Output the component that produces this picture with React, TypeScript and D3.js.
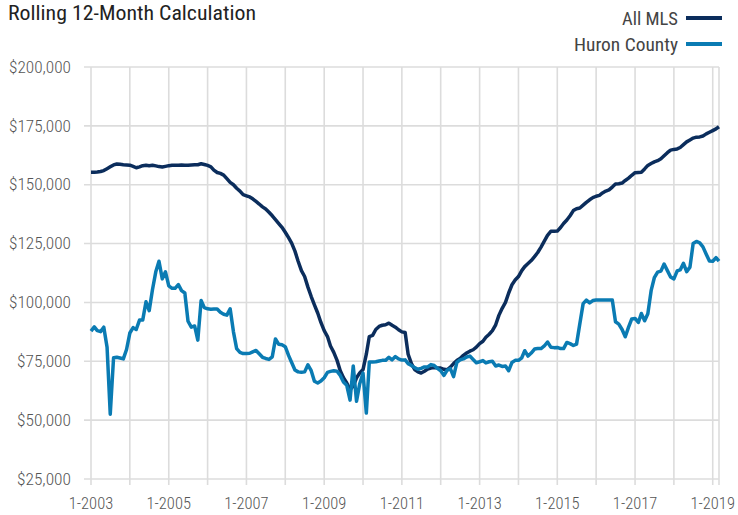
import React from 'react';
import * as d3 from 'd3';

// monthly values, Jan 2003 .. Mar 2019 (in $000)
const allMls = [
  155.3, 155.3, 155.4, 155.6, 156, 156.8, 157.6, 158.4, 158.8, 158.7, 158.5, 158.4,
  158.3, 157.8, 157.2, 157.6, 158.1, 158.3, 158.1, 158.3, 158.0, 157.7, 157.5, 157.8,
  158.1, 158.3, 158.3, 158.3, 158.4, 158.3, 158.3, 158.4, 158.5, 158.5, 158.9, 158.6,
  158.2, 157.6, 156.2, 155.2, 154.8, 154.1, 152.6, 151, 150, 148.5, 147.3, 145.8,
  145.3, 144.8, 144, 142.9, 141.8, 140.6, 139.7, 138.3, 136.8, 135.2, 133.5, 131.9,
  129.8, 127.5, 125.2, 121.8, 117.5, 113.5, 111, 106.5, 102.5, 99, 95.5, 91.5,
  88, 85.5, 81.5, 78.8, 75.5, 71, 68, 65.8, 63, 64.5, 68, 70,
  71.5, 78, 85.5, 86, 88.5, 89.8, 90.3, 90.5, 91.2, 90.3, 89.5, 88.4,
  87.5, 87.2, 78, 74, 71.5, 70.5, 70, 70.8, 71.7, 72.1, 72.3, 72.2,
  72.1, 71.6, 71.4, 72.5, 74, 75.3, 76.2, 77.5, 78.5, 79.3, 79.9, 81,
  82.5, 83.5, 85.2, 86.5, 88, 90.5, 94.5, 97.5, 100, 104, 107.5, 109.5,
  111, 113.5, 115.2, 116.5, 117.8, 119.5, 121.2, 123.5, 126, 128.5, 130.2, 130.2,
  130.3, 131.8, 133.5, 135, 136.8, 139, 139.8, 140.1, 141.3, 142.5, 143.6, 144.5,
  145.1, 145.5, 146.5, 147.3, 147.8, 149, 150.3, 150.4, 150.7, 151.8, 152.8, 154,
  155.1, 155.2, 155.3, 156.7, 158.2, 159, 159.7, 160.2, 161, 162.3, 163.6, 164.7,
  165, 165.2, 165.8, 167, 168.2, 169, 169.8, 170.2, 170.3, 170.7, 171.6, 172.3,
  173, 173.7, 174.6,
];

const huron = [
  87.8, 89.6, 88, 87.6, 89.5, 81, 52.5, 76.5, 76.7, 76.4, 76, 80,
  87, 89.3, 88.5, 92.5, 92.5, 100.3, 96.5, 105.5, 113, 117.5, 110, 113,
  107, 106, 106, 107.6, 105, 104, 92, 89.5, 90, 84, 100.8, 97.8,
  97.3, 97.1, 97.2, 97.2, 95.8, 95, 94.6, 97.3, 87.5, 80.4, 78.8, 78.3,
  78.3, 78.4, 79, 79.6, 78.2, 76.7, 76.2, 75.8, 76.9, 84.5, 82.2, 82,
  81.2, 77.5, 74.5, 71.3, 70.5, 70.3, 70.5, 73.5, 71, 66.5, 65.8, 66.6,
  68, 70.3, 70.7, 71, 70.8, 69, 66.2, 64.8, 58.5, 73, 58, 65.5,
  70, 53, 74.7, 74.7, 74.8, 75.1, 75.4, 75.4, 76.7, 75.6, 77, 76,
  75.5, 75.6, 74, 73.2, 72.3, 71.6, 72, 72.6, 72.6, 73.6, 73.2, 72,
  71, 69, 71.2, 71.9, 68.5, 74.5, 75.6, 76, 76.8, 77.2, 75.8, 74.4,
  74.8, 75.3, 74.3, 74.8, 75, 73, 73.4, 72.8, 73, 71, 74.5, 75.4,
  75.4, 76.5, 79.5, 77.2, 78.5, 80.2, 80.4, 80.4, 81.5, 83.2, 81, 80.8,
  80.9, 80.4, 80.4, 83, 82.5, 81.7, 82.3, 91, 99.5, 101, 99.8, 100.8,
  101, 101, 101, 101, 101, 101, 91.8, 90.8, 88.5, 85.4, 89.5, 93,
  93.2, 91.5, 95.3, 92.2, 95.2, 105, 110.5, 112.9, 113.3, 116.3, 113.5, 110.8,
  110, 113.4, 113.8, 116.6, 113.1, 115, 125, 125.9, 125.3, 123.6, 120.5, 117.6,
  117.5, 119, 117.5,
];

const yTicks = [25000, 50000, 75000, 100000, 125000, 150000, 175000, 200000];
const xLabelYears = [2003, 2005, 2007, 2009, 2011, 2013, 2015, 2017, 2019];
const gridYears = d3.range(2003, 2020);
const seriesNames = ['All MLS', 'Huron County'];
const legendWidths = [56, 104];
const seriesColors = ['#0b2d5c', '#0a7bb3'];

const W = 738;
const H = 515;
const FONT = '"Roboto Condensed", "Liberation Sans Narrow", Roboto, sans-serif';

export default function App() {
  const start = new Date(2003, 0, 1);
  const end = new Date(2019, 2, 1);
  const x = d3.scaleTime().domain([start, end]).range([91, 719]);
  const y = d3.scaleLinear().domain([25000, 200000]).range([479, 67]);

  const dateOf = (i: number) => d3.timeMonth.offset(start, i);
  const line = d3.line<number>()
    .x((_, i) => x(dateOf(i)))
    .y(d => y(d * 1000))
    .curve(d3.curveLinear);

  const [x0, x1] = x.range();
  const [yBottom, yTop] = y.range();

  return (
    <svg width={W} height={H} style={{ position: 'absolute', left: 0, top: 0, background: '#fff' }}>
      {/* grid */}
      <g stroke="#dcdcdc" strokeWidth={1.6}>
        {yTicks.map(t => (
          <line key={t} x1={x0 - 7} x2={x1} y1={y(t)} y2={y(t)} />
        ))}
        {gridYears.map(yr => (
          <line key={yr} x1={x(new Date(yr, 0, 1))} x2={x(new Date(yr, 0, 1))} y1={yTop} y2={yBottom + 6} />
        ))}
        <line x1={x1} x2={x1} y1={yTop} y2={yBottom + 6} />
      </g>

      {/* y labels */}
      <g fontFamily={FONT} fontSize={16.5} fontWeight={300} fill="#555" textAnchor="end">
        {yTicks.map(t => (
          <text key={t} x={71} y={y(t)} dy="0.35em" textLength={t >= 100000 ? 62 : 54} lengthAdjust="spacingAndGlyphs">
            {d3.format('$,')(t)}
          </text>
        ))}
      </g>

      {/* x labels */}
      <g fontFamily={FONT} fontSize={16.5} fontWeight={300} fill="#555" textAnchor="middle">
        {xLabelYears.map(yr => (
          <text key={yr} x={x(new Date(yr, 0, 1))} y={503} dy="0.35em">{`1-${yr}`}</text>
        ))}
      </g>

      {/* series */}
      <path d={line(allMls) || ''} fill="none" stroke={seriesColors[0]} strokeWidth={3.5} strokeLinejoin="round" />
      <path d={line(huron) || ''} fill="none" stroke={seriesColors[1]} strokeWidth={3.5} strokeLinejoin="round" />

      {/* title */}
      <text x={8} y={20} fontFamily={FONT} fontSize={21} fill="#222"
        textLength={248} lengthAdjust="spacingAndGlyphs">Rolling 12-Month Calculation</text>

      {/* legend */}
      <g fontFamily={FONT} fontSize={19} fill="#444">
        {seriesNames.map((name, i) => (
          <g key={name} transform={`translate(0,${18 + i * 26})`}>
            <text x={678} y={0} dy="0.35em" textAnchor="end"
              textLength={legendWidths[i]} lengthAdjust="spacingAndGlyphs">{name}</text>
            <line x1={686} x2={722} y1={0} y2={0} stroke={seriesColors[i]} strokeWidth={4} />
          </g>
        ))}
      </g>
    </svg>
  );
}
